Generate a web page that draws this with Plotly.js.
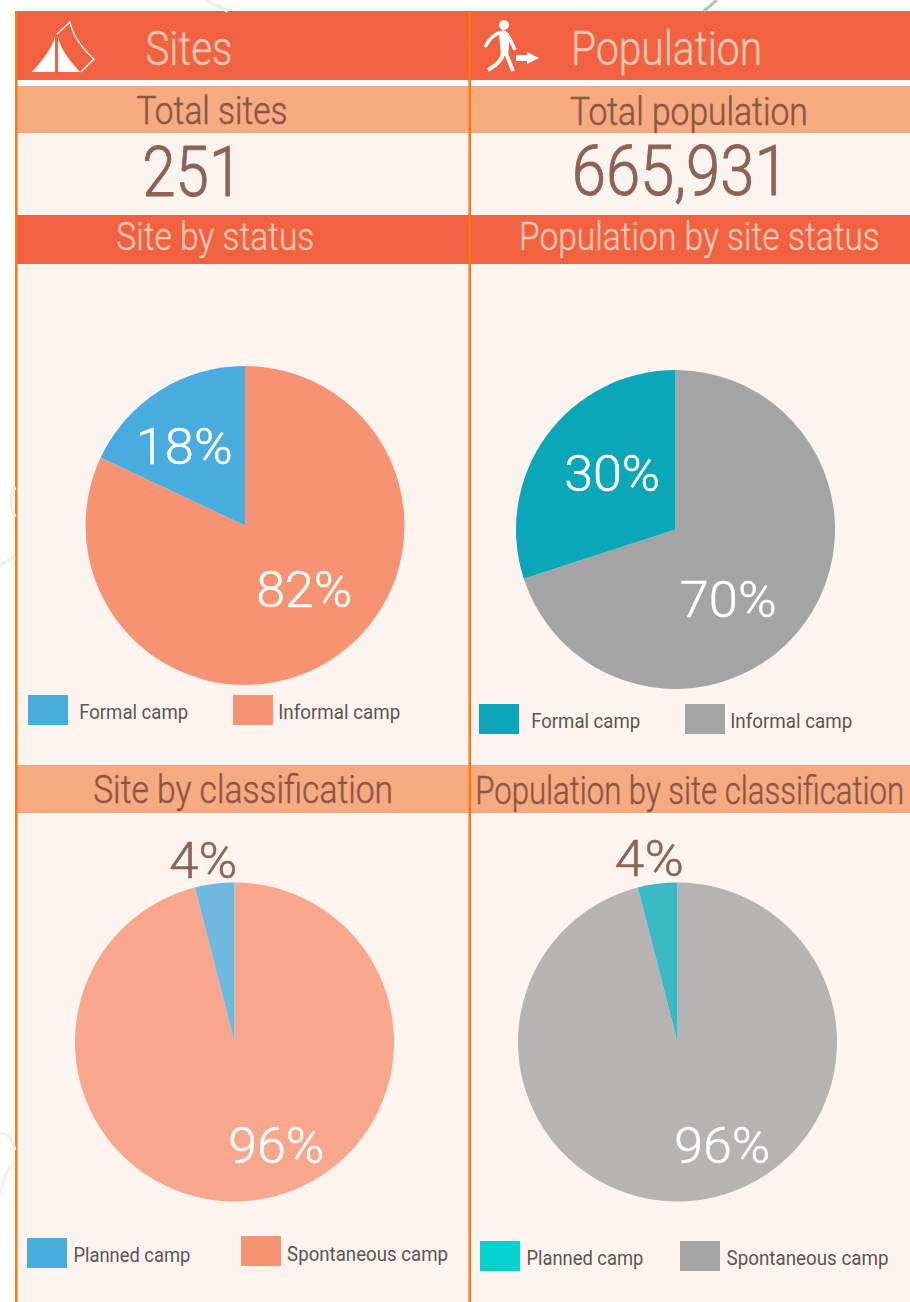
<!DOCTYPE html>
<html><head><meta charset="utf-8">
<script src="https://cdn.plot.ly/plotly-3.0.1.min.js"></script>
<style>html,body{margin:0;padding:0;background:#fff;overflow:hidden}</style></head>
<body><div id="chart" style="width:910px;height:1302px"></div>
<script>
const statusLabels = ['Informal camp','Formal camp'];
const classLabels = ['Spontaneous camp','Planned camp'];
const siteStatus = [82,18];
const popStatus = [70,30];
const siteClass = [96,4];
const popClass = [96,4];
const totalSites = '251';
const totalPopulation = '665,931';

const W=910,H=1302;
const FONT='Roboto,"Liberation Sans",sans-serif';
const px=x=>x/W, py=y=>1-y/H;
const P=(d)=>d.replace(/(-?[\d.]+),(-?[\d.]+)/g,(m,a,b)=>px(+a).toFixed(5)+','+py(+b).toFixed(5));
function rect(x0,y0,x1,y1,c){return {type:'rect',xref:'paper',yref:'paper',x0:px(x0),x1:px(x1),y0:py(y1),y1:py(y0),fillcolor:c,line:{width:0},layer:'below'};}
function path(d,fill,lc,lw){return {type:'path',xref:'paper',yref:'paper',path:P(d),fillcolor:fill||'rgba(0,0,0,0)',line:{color:lc||'rgba(0,0,0,0)',width:lw||0},layer:'below'};}
const widths=[],strokes=[];
function txt(t,x0,x1,y,size,color,weight,stroke){widths.push(x1-x0);strokes.push(stroke||0);return {text:t,xref:'paper',yref:'paper',x:px((x0+x1)/2),y:py(y),xanchor:'center',yanchor:'middle',showarrow:false,font:{family:FONT,size:size,color:color,weight:weight||300},borderpad:0};}
function pie(vals,labels,cols,cx,cy,r){return {type:'pie',values:vals,labels:labels,sort:false,direction:'clockwise',rotation:0,textinfo:'none',hoverinfo:'label+percent',showlegend:false,
  marker:{colors:cols,line:{width:0}},domain:{x:[px(cx-r),px(cx+r)],y:[py(cy+r),py(cy-r)]}};}

const RED='#F26240',PEACH='#F6AA80',PANEL='#FEF4EF',LINE='#F97A14',PALE='#FBCBB8',BROWN='#8C5444',NUM='#8D6257',LEG='#5B5452';
const CORAL='#F79273',GHOST='#F0F0F0';
const NONE='rgba(0,0,0,0)';
const shapes=[
 rect(16,133,910,1302,PANEL),
 rect(15,11,910,80,RED),
 rect(16,86,910,133,PEACH),
 rect(16,215,910,264,RED),
 rect(16,765,910,813,PEACH),
 // legends
 rect(28,695,68,725,'#48ACDF'),rect(233,695,273,725,CORAL),
 rect(479,704,519,734,'#0AA7B8'),rect(685,704,725,734,'#A4A4A4'),
 rect(27,1238,67,1268,'#48ACDF'),rect(241,1236,281,1266,CORAL),
 rect(480,1241,520,1271,'#03D3CF'),rect(680,1241,720,1271,'#A4A4A4'),
 // column lines
 rect(15,11,17.5,1302,LINE),rect(468.5,12,471,1302,LINE),
 // tent
 path('M32,72 C43,60 51,49 55,37 L55,72 Z','#fff'),
 path('M58,37 C61,50 69,60 80,72 L58,72 Z','#fff'),
 path('M57,34 L70,22 C73,37 82,48 94,59 L81,72',NONE,'#fff',1.3),
 // walker
 path('M485,47 C489,39 495,33 503,32 C508,33 511,41 515,50',NONE,'#fff',3.4),
 path('M499,33 L509,33 L509,47 L508,56 L501,56 L500,45 Z','#fff'),
 path('M503,52 C503,59 497,65 488,70',NONE,'#fff',3.8),
 path('M505,52 C508,58 510,63 513,71',NONE,'#fff',3.8),
 path('M516,55 L527,55 L527,52 L539,58 L527,64 L527,61 L516,61 Z','#fff'),
 {type:'circle',xref:'paper',yref:'paper',x0:px(499),x1:px(509),y0:py(30),y1:py(20),fillcolor:'#fff',line:{width:0},layer:'below'},
 // faint background map traces
 path('M205,0 C212,3 220,7 228,11',NONE,'#EEEEEE',4),
 path('M704,11 L717,0',NONE,'#BDBDBD',3),
 path('M15,487 C10,495 10,508 15,517',NONE,GHOST,3.5),
 path('M0,565 C5,563 10,558 15,557',NONE,GHOST,3.5),
 path('M0,1133 C8,1133 12,1138 15,1150',NONE,GHOST,3),
 path('M0,1193 C4,1180 6,1168 15,1165',NONE,GHOST,3)
];
const pct=v=>v+'%';
const annotations=[
 txt('Sites',145,232,49,48,PALE,300,0.3),
 txt('Population',571,762,49,48,PALE,300,0.3),
 txt('Total sites',136,287,111,39,BROWN,300,0.5),
 txt('Total population',570,808,112,39,BROWN,300,0.5),
 txt(totalSites,142,242,172,70,NUM,300,0.9),
 txt(totalPopulation,571,788,171,70,NUM,300,0.9),
 txt('Site by status',116,314,237,38,PALE,300,0.3),
 txt('Population by site status',519,880,237,38,PALE,300,0.3),
 txt('Site by classification',93,393,790,39,BROWN,300,0.4),
 txt('Population by site classification',475,904,791,39,BROWN,300,0.4),
 txt(pct(siteStatus[1]),135,232,447,50,'#fff',300,0.5),
 txt(pct(siteStatus[0]),256,352,590,50,'#fff',300,0.5),
 txt(pct(popStatus[1]),564,660,474,50,'#fff',300,0.5),
 txt(pct(popStatus[0]),679,776,600,50,'#fff',300,0.5),
 txt(pct(siteClass[1]),169,237,861,50,NUM,300,0.5),
 txt(pct(siteClass[0]),228,324,1146,50,'#fff',300,0.5),
 txt(pct(popClass[1]),615,684,859,50,NUM,300,0.5),
 txt(pct(popClass[0]),674,770,1146,50,'#fff',300,0.5),
 txt(statusLabels[1],79,188,712,21,LEG,400),
 txt(statusLabels[0],278,400,712,21,LEG,400),
 txt(statusLabels[1],531,640,721,21,LEG,400),
 txt(statusLabels[0],730,852,721,21,LEG,400),
 txt(classLabels[1],73,190,1255,21,LEG,400),
 txt(classLabels[0],287,448,1254,21,LEG,400),
 txt(classLabels[1],526,643,1258,21,LEG,400),
 txt(classLabels[0],726,888,1258,21,LEG,400)
];
const data=[
 pie(siteStatus,statusLabels,[CORAL,'#48ACDF'],245,525.5,159.5),
 pie(popStatus,statusLabels,['#A4A4A4','#0AA7B8'],675.5,529.5,159.5),
 pie(siteClass,classLabels,['#F8A68C','#6DB9E0'],234.5,1042,159.5),
 pie(popClass,classLabels,['#B5B4B2','#3AB8C3'],677.5,1042,159.5)
];
Plotly.newPlot('chart',data,{width:W,height:H,margin:{l:0,r:0,t:0,b:0,pad:0},paper_bgcolor:'#fff',plot_bgcolor:'rgba(0,0,0,0)',showlegend:false,shapes,annotations,font:{family:FONT}},{displayModeBar:false,staticPlot:true}).then(gd=>{
  gd.querySelectorAll('.annotation').forEach(a=>{
    const i=+a.getAttribute('data-index');
    const t=a.querySelector('text.annotation-text');
    if(t){
      const k=widths[i]/t.getComputedTextLength();
      const x0=+t.getAttribute('x')||0;
      t.setAttribute('transform','translate('+(x0*(1-k))+',0) scale('+k+',1)');
      if(strokes[i]){t.style.stroke=annotations[i].font.color;t.style.strokeWidth=strokes[i]+'px';t.style.vectorEffect='non-scaling-stroke';}
    }
  });
});
</script></body></html>
